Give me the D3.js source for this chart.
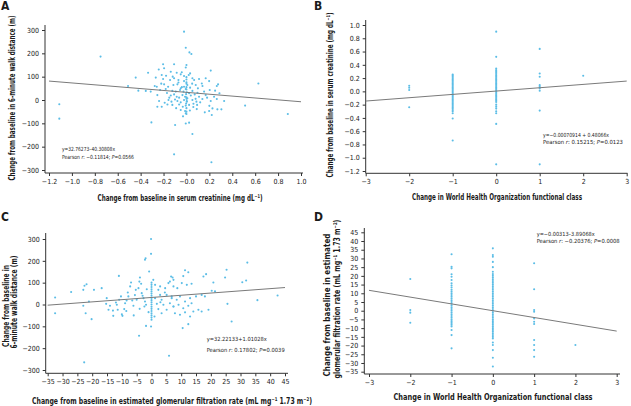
<!DOCTYPE html>
<html><head><meta charset="utf-8">
<script src="https://cdn.jsdelivr.net/npm/d3@7"></script>
<style>
body{margin:0;background:#fff}
svg{display:block}
text{font-family:"Liberation Sans Narrow","Arial Narrow","DejaVu Sans Condensed",sans-serif;fill:#1a1a1a}
</style></head><body>
<svg id="c" width="631" height="406"></svg>
<script>
// ---------- DATA ----------
// Panel A: change in serum creatinine (mg/dL) vs change in 6MWD (m)
const pointsA = [
[-0.204,153],[-0.108,153],[0,150],[0.212,126],[-0.242,131],[-0.195,136],[-0.137,121],[-0.085,117],[-0.041,119],[-0.006,139],[0.032,114],
[-0.216,107],[-0.178,104],[-0.05,110],[-0.021,103],[0.02,107],[0.052,93],[-0.268,96],[0.168,93],
[-0.204,90],[-0.143,86],[-0.108,93],[-0.07,86],[-0.021,81],[0,76],[0.067,86],[0.11,90],[0.198,81],
[-0.277,60],[-0.259,57],[-0.195,67],[-0.16,57],[-0.114,64],[-0.079,67],[-0.05,50],[-0.021,57],[0.008,64],[0.032,53],[0.081,64],[0.134,71],[0.276,67],[0.265,60],
[-0.355,39],[-0.312,36],[-0.23,43],[-0.181,47],[-0.123,39],[-0.093,36],[-0.056,43],[-0.026,36],[-0.006,47],[0.023,29],[0.052,39],[0.096,31],[0.154,36],[0.203,43],[0.288,29],
[-0.254,21],[-0.137,19],[-0.108,24],[-0.085,14],[-0.064,10],[-0.035,21],[-0.012,14],[0.008,7],[0.038,19],[0.072,24],[0.11,14],[0.168,21],[0.241,14],[0.329,-4],
[-0.239,-4],[-0.157,0],[-0.131,-7],[-0.079,-4],[-0.05,-10],[-0.021,0],[0.003,-7],[0.052,0],[0.087,-7],[0.139,4],[0.212,-4],[0.265,4],
[-0.254,-29],[-0.216,-29],[-0.166,-19],[-0.123,-21],[-0.064,-19],[-0.032,-29],[-0.006,-24],[0.023,-21],[0.061,-16],[0.093,-21],[0.227,-36],[0.27,-40],[0.305,-40],
[-0.05,-43],[-0.012,-47],[-0.006,-57],[0.09,-39],[0.16,-53],[0.198,-47],[0.221,-64],
[-0.306,-96],[-0.099,-107],[-0.006,-101],[0.023,-97],
[0.052,-146],[-0.108,-233],[0.218,-267],[0.512,-24],[0.628,71],[-0.443,96],[-0.335,117],
[-0.021,293],[-0.006,224],[0.026,204],[0.043,197],
[-0.75,186],[-1.11,-18],[-1.11,-80],[-0.51,60],[0.885,-60],[-0.42,40],
[0,-60],[0,-50],[0,-35],[-0.003,-15],[0.003,-5],[0,5],[0,12],[-0.003,25],[0.003,33],[0,45],[0,55],[0,70],[0,88],[0,98],
[-0.17,30],[-0.15,10],[-0.1,2],[-0.04,55],[0.05,70],[0.1,50],[0.12,-10],[0.06,-30],[-0.07,75],[-0.19,-12],[0.14,60],[0.18,10],
[-0.12,100],[-0.03,-70],[0.03,-45],[0.08,5],[-0.09,-35],[0.2,-25],[-0.22,70],[0.25,40]
];
// Panel B: change in WHO functional class vs change in serum creatinine
const pointsB = [
[-2,0.084],[-2,0.054],[-2,0.02],[-2,-0.24],
[-1,0.255],[-1,0.24],[-1,0.22],[-1,0.2],[-1,0.18],[-1,0.16],[-1,0.14],[-1,0.12],[-1,0.1],[-1,0.08],[-1,0.06],[-1,0.04],[-1,0.02],[-1,0],
[-1,-0.02],[-1,-0.04],[-1,-0.06],[-1,-0.08],[-1,-0.1],[-1,-0.12],[-1,-0.14],[-1,-0.16],[-1,-0.18],[-1,-0.2],[-1,-0.22],[-1,-0.24],[-1,-0.26],[-1,-0.28],[-1,-0.3],[-1,-0.33],[-1,-0.41],[-1,-0.74],
[0,0.9],[0,0.52],[0,0.345],[0,0.32],[0,0.3],[0,0.28],[0,0.26],[0,0.24],[0,0.22],[0,0.2],[0,0.18],[0,0.16],[0,0.14],[0,0.12],[0,0.1],[0,0.08],[0,0.06],[0,0.04],[0,0.02],[0,0],
[0,-0.02],[0,-0.04],[0,-0.06],[0,-0.08],[0,-0.1],[0,-0.12],[0,-0.14],[0,-0.16],[0,-0.2],[0,-0.23],[0,-0.26],[0,-0.3],[0,-0.33],[0,-0.49],[0,-1.1],
[1,0.64],[1,0.27],[1,0.22],[1,0.094],[1,0.07],[1,0.045],[1,0.01],[1,-0.29],[1,-1.1],
[2,0.235]
];
// Panel C: change in eGFR vs change in 6MWD
const pointsC = [
[-32.5,32],[-32.5,-40],[-27.1,57],[-22.6,86],[-21.9,93],[-23,67],[-21.1,14],[-23,-6],[-22.2,-40],[-20.2,-67],[-19.4,67],[-16.8,75],
[-15.1,29],[-15.3,3],[-14.5,-24],[-14,-6],[-11,131],
[-12.9,-52],[-11.7,-1],[-12,9],[-10.9,22],[-10.3,37],[-11.4,-24],[-9.8,-52],[-9.2,-21],[-8.9,6],[-8.4,18],[-7.8,37],[-8,55],[-7.2,83],[-6.9,101],
[-6.1,-6],[-6.5,18],[-5.6,43],[-5,22],[-5.3,67],[-4.4,75],[-4.1,105],[-3.9,124],[-3.5,95],[-3.3,52],[-2.7,29],[-2.2,14],[-2.4,-9],[-1.85,-1],[-1.6,70],
[-2.2,205],[-2,212],[-0.8,151],[-0.16,232],[-1.85,-98],[-0.16,-101],[-4.2,-143],[-0.16,300],
[0,100],[0,90],[0,80],[0,70],[0,60],[0,50],[0,40],[0,30],[0,20],[0,10],[0,0],[0,-10],[0,-20],[0,-30],[0,-40],[0,-50],[0,-60],[0,-70],
[0.6,113],[1.2,90],[2.3,67],[2.9,44],[3.4,22],[4,-1],[4.6,75],[5.1,44],[5.7,98],[6.6,128],[7.4,113],[6.8,37],[6.2,6],[7.4,-9],[5.1,-24],[3.4,-40],[2.3,-21],[1.8,3],[1.2,29],[2.9,83],
[5.9,-235],[-22.7,-265],
[6.2,105],[7.1,124],[11.3,157],[12.4,148],[10.7,130],[7.4,83],[8.7,75],[10.2,98],[11.9,90],[13.5,95],[17.5,128],[18.4,139],[25.3,159],[24.8,124],[32.3,192],[31.9,110],[30.6,102],[20.85,101],
[6.8,29],[8.5,22],[9.6,37],[11.3,14],[13,29],[15,37],[16.9,44],[18,37],[20.3,63],[21.4,60],
[7.4,-9],[9.1,-1],[10.7,-17],[12.4,-6],[13.5,6],[14.1,-32],[15.8,-24],[16.9,-32],[19.2,-24],[7.9,-40],[9.6,-47],[11.3,-36],[13,-55],
[10.5,-108],[12.4,-90],[25.6,3],[35.7,20],[42.5,41],[27,-78],
[-13,-28],[-10,-45],[-8.5,-30],[-6,-50],[-4,-20],[-1,-35],[1,-55],[3,10],[4.5,55],[-3,40]
];
// Panel D: change in WHO functional class vs change in eGFR
const pointsD = [
[-2,18.2],[-2,0.4],[-2,-1.1],[-2,-6.9],
[-1,32.4],[-1,25.2],[-1,24.3],[-1,20.9],[-1,19.5],[-1,17.6],[-1,15.7],[-1,14.5],[-1,13.3],[-1,12],[-1,11],[-1,10],[-1,9],[-1,8],[-1,7],[-1,6],[-1,5],[-1,4],[-1,3],[-1,2],[-1,1],[-1,0],
[-1,-1],[-1,-2],[-1,-3],[-1,-4],[-1,-5],[-1,-6],[-1,-7],[-1,-8],[-1,-9],[-1,-11.1],[-1,-14],[-1,-21.6],
[0,35.8],[0,32],[0,31],[0,28],[0,25],[0,22.4],[0,21],[0,20],[0,19],[0,18],[0,17],[0,16],[0,15],[0,14],[0,13],[0,12],[0,11],[0,10],[0,9],[0,8],[0,7],[0,6],[0,5],[0,4],[0,3],[0,2],[0,1],[0,0],
[0,-1],[0,-2],[0,-3],[0,-4],[0,-5],[0,-6],[0,-7],[0,-8],[0,-9],[0,-10],[0,-11],[0,-12],[0,-13],[0,-14],[0,-15],[0,-15.9],[0,-18.2],[0,-19.7],[0,-22.6],[0,-27],[0,-32],
[1,27.2],[1,12.3],[1,0.4],[1,-0.6],[1,-4.4],[1,-6.3],[1,-7.6],[1,-16.8],[1,-19.7],[1,-22.6],[1,-26.4],
[2,-19.7]
];
// regression lines (endpoints)
const lineA = [[-1.2,81.1],[1.0,-7.5]];
const lineB = [[-3,-0.146],[3,0.155]];
const lineC = [[-35,-3.1],[45,77.7]];
const lineD = [[-3,11.7],[3,-11.7]];
// ticks
const ticksA_x = [-1.2,-1.0,-0.8,-0.6,-0.4,-0.2,0,0.2,0.4,0.6,0.8,1.0];
const labelsA_x = ["−1.2","−1.0","−0.8","−0.6","−0.4","−0.2","−0.0","0.2","0.4","0.6","0.8","1.0"];
const ticks6MWD = [-300,-200,-100,0,100,200,300];
const labels6MWD = ["−300","−200","−100","0","100","200","300"];
const ticksWHO = [-3,-2,-1,0,1,2,3];
const labelsWHO = ["−3","−2","−1","0","1","2","3"];
const ticksB_y = [-1.2,-1.0,-0.8,-0.6,-0.4,-0.2,0,0.2,0.4,0.6,0.8,1.0];
const labelsB_y = ["−1.2","−1.0","−0.8","−0.6","−0.4","−0.2","0.0","0.2","0.4","0.6","0.8","1.0"];
const ticksGFR = [-35,-30,-25,-20,-15,-10,-5,0,5,10,15,20,25,30,35,40,45];
const labelsGFR = ticksGFR.map(d => d < 0 ? "−" + (-d) : String(d));

// ---------- DRAWING ----------
const svg = d3.select("#c");
const DOT = "#5bbde6";

function panel(o) {
  const g = svg.append("g");
  const x = d3.scaleLinear().domain(o.xDom).range(o.xRange);
  const y = d3.scaleLinear().domain(o.yDom).range(o.yRange);
  g.append("line").attr("x1", o.ax).attr("x2", o.ax).attr("y1", o.yTop).attr("y2", o.ay)
    .attr("stroke", "#333").attr("stroke-width", 1);
  g.append("line").attr("x1", o.ax).attr("x2", o.xRight).attr("y1", o.ay).attr("y2", o.ay)
    .attr("stroke", "#333").attr("stroke-width", 1);
  const xa = g.append("g").attr("transform", `translate(0,${o.ay})`)
    .call(d3.axisBottom(x).tickValues(o.xTicks).tickFormat((d, i) => o.xLabels[i]).tickSize(3).tickPadding(3));
  const ya = g.append("g").attr("transform", `translate(${o.ax},0)`)
    .call(d3.axisLeft(y).tickValues(o.yTicks).tickFormat((d, i) => o.yLabels[i]).tickSize(3).tickPadding(3));
  [xa, ya].forEach(a => {
    a.select(".domain").remove();
    a.selectAll("line").attr("stroke", "#333");
    a.selectAll("text").attr("font-size", 7).attr("fill", "#1a1a1a")
      .attr("font-family", null);
  });
  g.append("g").selectAll("circle").data(o.pts).join("circle")
    .attr("cx", d => x(d[0])).attr("cy", d => y(d[1])).attr("r", 1.05).attr("fill", DOT);
  g.append("line").attr("x1", x(o.line[0][0])).attr("y1", y(o.line[0][1]))
    .attr("x2", x(o.line[1][0])).attr("y2", y(o.line[1][1]))
    .attr("stroke", "#7a7a7a").attr("stroke-width", 1);
  g.append("text").attr("x", o.ann[0]).attr("y", o.ann[1]).attr("font-size", 5.6)
    .attr("textLength", o.ann[3]).attr("lengthAdjust", "spacingAndGlyphs").text(o.eq);
  const a2 = g.append("text").attr("x", o.ann[0]).attr("y", o.ann[2]).attr("font-size", 5.6)
    .attr("textLength", o.ann[4]).attr("lengthAdjust", "spacingAndGlyphs");
  a2.append("tspan").text("Pearson ");
  a2.append("tspan").attr("font-style", "italic").text("r");
  a2.append("tspan").text(": " + o.r + "; ");
  a2.append("tspan").attr("font-style", "italic").text("P");
  a2.append("tspan").text("=" + o.p);
  svg.append("text").attr("x", o.letter[0]).attr("y", o.letter[1]).attr("font-size", 12)
    .attr("font-weight", "bold").attr("font-family", "Liberation Sans, Arial, sans-serif").text(o.name);
  return g;
}

// parts: plain strings are normal text; {sup: "..."} are superscripts
function richText(sel, parts) {
  let raised = false;
  parts.forEach(p => {
    if (typeof p === "string") {
      const t = sel.append("tspan").text(p);
      if (raised) { t.attr("dy", 2.6); raised = false; }
    } else {
      sel.append("tspan").attr("font-size", 5).attr("dy", raised ? 0 : -2.6).text(p.sup);
      raised = true;
    }
  });
}
function xLabel(cx, by, len, parts) {
  const t = svg.append("text").attr("x", cx).attr("y", by).attr("text-anchor", "middle")
    .attr("font-size", 8).attr("font-weight", "bold")
    .attr("textLength", len).attr("lengthAdjust", "spacingAndGlyphs");
  richText(t, parts);
}
function yLabel(bx, cy, len, parts) {
  const t = svg.append("text").attr("transform", `translate(${bx},${cy}) rotate(-90)`)
    .attr("text-anchor", "middle").attr("font-size", 8).attr("font-weight", "bold")
    .attr("textLength", len).attr("lengthAdjust", "spacingAndGlyphs");
  richText(t, parts);
}

// Panel A
panel({name: "A", letter: [1, 10], pts: pointsA, line: lineA,
  xDom: [-1.2, 1.0], xRange: [49, 301], yDom: [-300, 300], yRange: [170, 30],
  ax: 45, ay: 173, yTop: 25, xRight: 303,
  xTicks: ticksA_x, xLabels: labelsA_x, yTicks: ticks6MWD, yLabels: labels6MWD,
  eq: "y=32.76273–40.30808x", r: "−0.11814", p: "0.0566", ann: [62, 151, 158.5, 53, 72]});
xLabel(180, 201, 165, ["Change from baseline in serum creatinine (mg dL", {sup: "−1"}, ")"]);
yLabel(14.5, 98, 165, ["Change from baseline in 6-minute walk distance (m)"]);

// Panel B
panel({name: "B", letter: [314, 10], pts: pointsB, line: lineB,
  xDom: [-3, 3], xRange: [365.7, 626.7], yDom: [-1.2, 1.0], yRange: [171, 25],
  ax: 365.7, ay: 173.3, yTop: 20, xRight: 627.5,
  xTicks: ticksWHO, xLabels: labelsWHO, yTicks: ticksB_y, yLabels: labelsB_y,
  eq: "y=−0.00070914 + 0.48066x", r: "0.15215", p: "0.0123", ann: [543, 137, 143.5, 66, 80]});
xLabel(497, 200, 170, ["Change in World Health Organization functional class"]);
yLabel(332.5, 95, 165, ["Change from baseline in serum creatinine (mg dL", {sup: "−1"}, ")"]);

// Panel C
panel({name: "C", letter: [1, 221], pts: pointsC, line: lineC,
  xDom: [-35, 45], xRange: [47.7, 285], yDom: [-300, 300], yRange: [370, 239],
  ax: 45.7, ay: 373.3, yTop: 233, xRight: 288,
  xTicks: ticksGFR, xLabels: labelsGFR, yTicks: ticks6MWD, yLabels: labels6MWD,
  eq: "y=32.22133+1.01028x", r: "0.17802", p: "0.0039", ann: [206.7, 341, 351.5, 60, 78]});
xLabel(172, 404, 280, ["Change from baseline in estimated glomerular filtration rate (mL mg", {sup: "−1"}, " 1.73 m", {sup: "−2"}, ")"]);
yLabel(9.2, 306, 82, ["Change from baseline in"]);
yLabel(16.5, 302, 93, ["6-minute walk distance (m)"]);

// Panel D
panel({name: "D", letter: [314, 221], pts: pointsD, line: lineD,
  xDom: [-3, 3], xRange: [369, 616.7], yDom: [-35, 45], yRange: [371.7, 232.3],
  ax: 364.3, ay: 374, yTop: 228, xRight: 620,
  xTicks: ticksWHO, xLabels: labelsWHO, yTicks: ticksGFR, yLabels: labelsGFR,
  eq: "y=−0.00313–3.89068x", r: "−0.20376", p: "0.0008", ann: [536.7, 236, 242.5, 58, 83]});
xLabel(493, 399.5, 199, ["Change in World Health Organization functional class"]);
yLabel(330, 305, 143, ["Change from baseline in estimated"]);
yLabel(340, 299, 159, ["glomerular filtration rate (mL mg", {sup: "−1"}, " 1.73 m", {sup: "−2"}, ")"]);
</script>
</body></html>
